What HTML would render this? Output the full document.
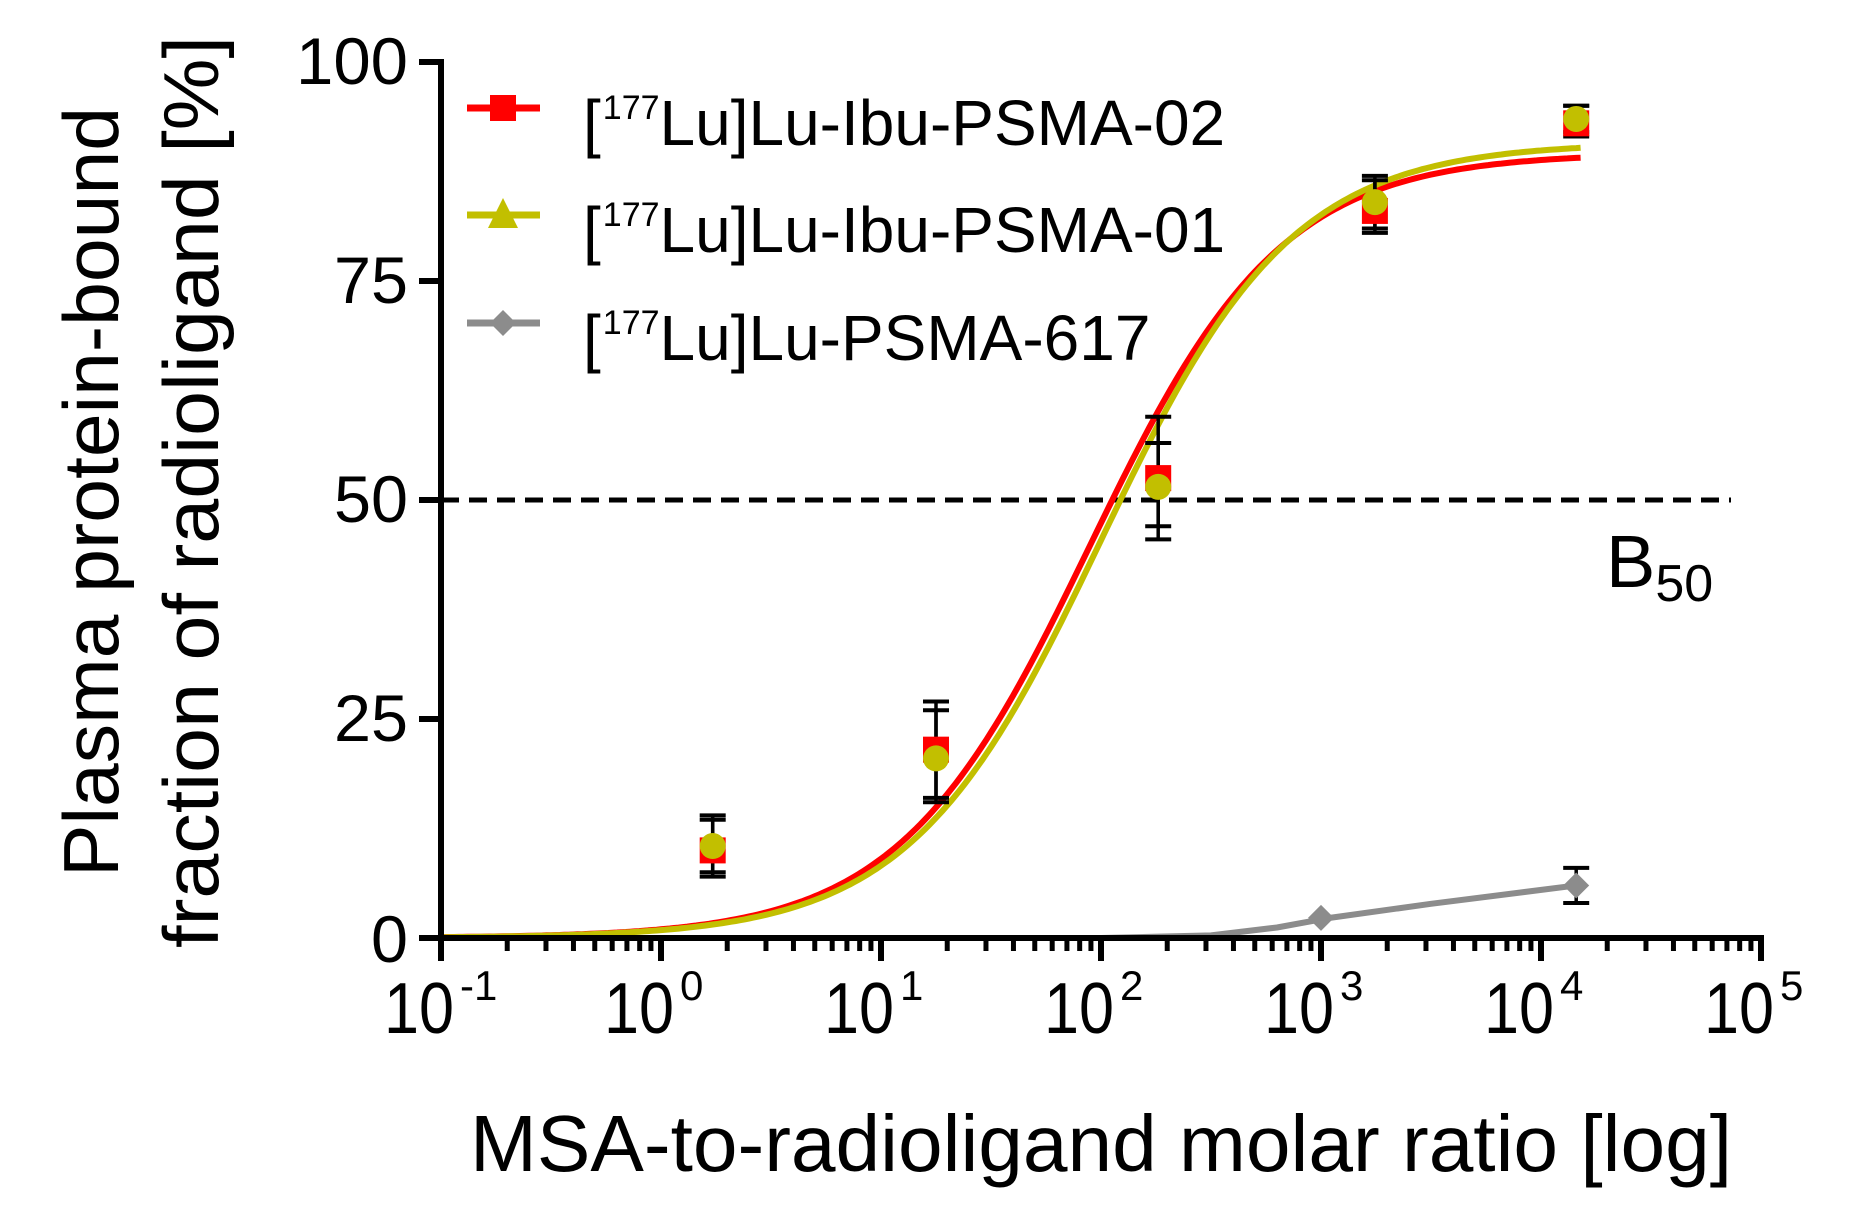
<!DOCTYPE html>
<html><head><meta charset="utf-8"><style>html,body{margin:0;padding:0;background:#fff}svg{display:block}</style></head>
<body>
<svg id="s" width="1856" height="1232" viewBox="0 0 1856 1232" xmlns="http://www.w3.org/2000/svg" font-family="Liberation Sans, Arial, sans-serif">
<rect width="1856" height="1232" fill="#fff"/>
<g id="g"></g>
<text transform="translate(118,877) rotate(-90)" font-size="78" textLength="770" lengthAdjust="spacingAndGlyphs">Plasma protein-bound</text>
<text transform="translate(218,948) rotate(-90)" font-size="78" textLength="912" lengthAdjust="spacingAndGlyphs">fraction of radioligand [%]</text>
<text x="470" y="1171" font-size="80" textLength="1262" lengthAdjust="spacingAndGlyphs">MSA-to-radioligand molar ratio [log]</text>
<g font-size="66" text-anchor="end">
<text x="408" y="84" textLength="112" lengthAdjust="spacingAndGlyphs">100</text>
<text x="408" y="303" textLength="74" lengthAdjust="spacingAndGlyphs">75</text>
<text x="408" y="522" textLength="74" lengthAdjust="spacingAndGlyphs">50</text>
<text x="408" y="741" textLength="74" lengthAdjust="spacingAndGlyphs">25</text>
<text x="408" y="962" textLength="37" lengthAdjust="spacingAndGlyphs">0</text>
</g>
<text x="1606" y="587" font-size="74">B<tspan font-size="52" dy="14">50</tspan></text>
<g font-size="64">
<text x="583" y="145">[<tspan font-size="34" dy="-26" dx="2">177</tspan><tspan dy="26">Lu]Lu-Ibu-PSMA-02</tspan></text>
<text x="583" y="252">[<tspan font-size="34" dy="-26" dx="2">177</tspan><tspan dy="26">Lu]Lu-Ibu-PSMA-01</tspan></text>
<text x="583" y="360">[<tspan font-size="34" dy="-26" dx="2">177</tspan><tspan dy="26">Lu]Lu-PSMA-617</tspan></text>
</g>
</svg>
<script>
const g=document.getElementById('g');
const NS='http://www.w3.org/2000/svg';
function X(l){return 441+(l+1)*220}
function Y(v){return 938-v*8.76}
function el(t,a){const e=document.createElementNS(NS,t);for(const k in a)e.setAttribute(k,a[k]);g.appendChild(e);return e}
el('line',{x1:441,y1:Y(50),x2:1731,y2:Y(50),stroke:'#000','stroke-width':5,'stroke-dasharray':'18 10'});
function sig(top,E,col){let d='';for(let l=-1;l<=4.18;l+=0.02){const v=top/(1+Math.pow(10,E-l));d+=(d?'L':'M')+X(l).toFixed(1)+' '+Y(v).toFixed(1)}el('path',{d:d,fill:'none',stroke:col,'stroke-width':6})}
sig(89.6,1.95,'#ff0000');
sig(90.8,2.0,'#c2bf00');
let gd='';const gp=[[-1,0],[2,0],[2.5,0.3],[2.8,1.2],[3.04,2.3],[3.5,3.9],[4.16,6]];
gp.forEach((p,i)=>gd+=(i?'L':'M')+X(p[0])+' '+Y(p[1]));
el('path',{d:gd,fill:'none',stroke:'#8c8c8c','stroke-width':6,'stroke-linejoin':'round'});
function eb(l,lo,hi){const x=X(l);el('line',{x1:x,y1:Y(lo),x2:x,y2:Y(hi),stroke:'#000','stroke-width':3.5});[lo,hi].forEach(v=>el('line',{x1:x-13,y1:Y(v),x2:x+13,y2:Y(v),stroke:'#000','stroke-width':4}))}
const xs=[0.235,1.25,2.26,3.245,4.16];
const red=[10,21.5,52.5,83,93],yel=[10.5,20.5,51.5,84,93.5];
const er=[[7,14],[15.5,27],[45.5,59.5],[80.5,87],[91.5,95]];
const er2=[[7.5,13.5],[16,26],[47,56.5],[81,86.5],[92,95]];
xs.forEach((l,i)=>{eb(l,er[i][0],er[i][1]);eb(l,er2[i][0],er2[i][1])});
xs.forEach((l,i)=>el('rect',{x:X(l)-13,y:Y(red[i])-13,width:26,height:26,fill:'#ff0000'}));
xs.forEach((l,i)=>el('circle',{cx:X(l),cy:Y(yel[i]),r:13,fill:'#c2bf00'}));
eb(4.16,4,8);
function dia(x,y,r,c){el('polygon',{points:`${x},${y-r} ${x+r},${y} ${x},${y+r} ${x-r},${y}`,fill:c})}
dia(X(3.0),Y(2.3),13,'#8c8c8c');dia(X(4.16),Y(6),13,'#8c8c8c');
el('line',{x1:441,y1:59,x2:441,y2:961,stroke:'#000','stroke-width':6});
el('line',{x1:438,y1:938,x2:1764,y2:938,stroke:'#000','stroke-width':6});
[0,25,50,75,100].forEach(v=>el('line',{x1:419,y1:Y(v),x2:441,y2:Y(v),stroke:'#000','stroke-width':6}));
for(let d=-1;d<=5;d++){const x=X(d);el('line',{x1:x,y1:938,x2:x,y2:961,stroke:'#000','stroke-width':6});
 if(d<5)for(let m=2;m<=9;m++){const xm=X(d+Math.log10(m));el('line',{x1:xm,y1:938,x2:xm,y2:951,stroke:'#000','stroke-width':5})}
 const t=el('text',{x:x-57,y:1033,'font-size':72});
 const a=document.createElementNS(NS,'tspan');a.setAttribute('textLength','70');a.setAttribute('lengthAdjust','spacingAndGlyphs');a.textContent='10';t.appendChild(a);
 const ts=document.createElementNS(NS,'tspan');ts.setAttribute('font-size','42');ts.setAttribute('dy','-33');ts.setAttribute('dx','6');ts.textContent=(d===-1?'-1':String(d));t.appendChild(ts);}
function lg(y,c){el('line',{x1:467,y1:y,x2:540,y2:y,stroke:c,'stroke-width':7})}
lg(108,'#ff0000');el('rect',{x:490,y:95,width:26,height:26,fill:'#ff0000'});
lg(215,'#c2bf00');el('polygon',{points:'503,198 518,228 488,228',fill:'#c2bf00'});
lg(323,'#8c8c8c');dia(503,323,13,'#8c8c8c');
</script>
</body></html>
